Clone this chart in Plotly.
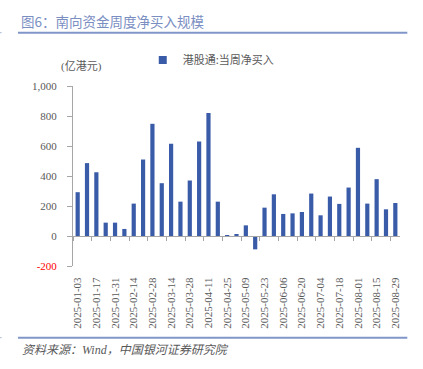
import plotly.graph_objects as go

dates = ["2025-01-03", "2025-01-10", "2025-01-17", "2025-01-24", "2025-01-31",
         "2025-02-07", "2025-02-14", "2025-02-21", "2025-02-28",
         "2025-03-07", "2025-03-14", "2025-03-21", "2025-03-28",
         "2025-04-04", "2025-04-11", "2025-04-18", "2025-04-25",
         "2025-05-02", "2025-05-09", "2025-05-16", "2025-05-23", "2025-05-30",
         "2025-06-06", "2025-06-13", "2025-06-20", "2025-06-27",
         "2025-07-04", "2025-07-11", "2025-07-18", "2025-07-25",
         "2025-08-01", "2025-08-08", "2025-08-15", "2025-08-22", "2025-08-29"]
net_buy = [292, 486, 425, 89, 89, 47, 216, 510, 748, 352, 615, 229, 370, 630, 820, 229,
           3, 11, 71, -89, 189, 278, 147, 151, 160, 283, 138, 263, 214, 323, 588, 216,
           379, 178, 220]
series_name = "港股通:当周净买入"
y_tickvals = [-200, 0, 200, 400, 600, 800, 1000]
y_ticktext = ['<span style="color:#ff0000">-200</span>', "0", "200", "400", "600", "800", "1,000"]

BAR = "#3a5ca8"
GRID = "#a6a6a6"
TXT = "#595959"
LINE = "#8196c8"
SERIF = "Liberation Serif, Noto Sans CJK SC"
CJK = "Noto Sans CJK SC"

fig = go.Figure()
fig.add_trace(go.Bar(x=dates, y=net_buy, marker=dict(color=BAR, line=dict(width=0)),
                     showlegend=False, name=series_name))
fig.add_trace(go.Scatter(x=[None], y=[None], mode="markers", name=series_name,
                         marker=dict(symbol="square", size=8, color=BAR), showlegend=True))

W, H = 423, 369
L, R, T, B = 73.3, 23, 86, 103
pw = W - L - R
ph = H - T - B

def px(xp):
    return (xp - L) / pw

def py(yp):
    return (H - B - yp) / ph

fig.update_layout(
    width=W, height=H,
    margin=dict(l=L, r=R, t=T, b=B, pad=0, autoexpand=False),
    paper_bgcolor="white", plot_bgcolor="white",
    bargap=0.55,
    font=dict(family=SERIF, size=11, color=TXT),
    legend=dict(orientation="h", x=px(143), y=py(60), xanchor="left", yanchor="middle",
                font=dict(family=CJK, size=11, color=TXT), bgcolor="rgba(0,0,0,0)",
                itemwidth=30),
    xaxis=dict(type="category", categoryorder="array", categoryarray=dates,
               range=[-0.5, len(dates) - 0.5],
               anchor="free", position=py(236),
               showline=True, linecolor=GRID, linewidth=1,
               ticks="outside", ticklen=4, tickcolor=GRID, tickson="boundaries",
               dtick=2, tickangle=-90, ticklabelstandoff=36,
               tickfont=dict(family=SERIF, size=11, color=TXT),
               showgrid=False, zeroline=False, automargin=False),
    yaxis=dict(range=[-200, 1000], tickvals=y_tickvals, ticktext=y_ticktext,
               showline=True, linecolor=GRID, linewidth=1,
               ticks="outside", ticklen=5, tickcolor=GRID, ticklabelstandoff=8,
               tickfont=dict(family=SERIF, size=11, color=TXT),
               showgrid=False, zeroline=False, automargin=False),
)

annotations = [
    dict(text="图6：南向资金周度净买入规模", x=px(19), y=py(20.7), xanchor="left", yanchor="middle",
         font=dict(family=CJK, size=13.5, color="#7a8ec2")),
    dict(text="(亿港元)", x=px(81.5), y=py(67), xanchor="center", yanchor="middle",
         font=dict(family=SERIF, size=11, color=TXT)),
    dict(text="<i>资料来源：Wind，中国银河证券研究院</i>", x=px(20), y=py(350), xanchor="left",
         yanchor="middle", font=dict(family=SERIF, size=12, color=TXT)),
]
for a in annotations:
    a.update(xref="paper", yref="paper", showarrow=False)
fig.update_layout(annotations=annotations)

shapes = [
    dict(type="line", x0=px(18.3), x1=px(407.3), y0=py(32.7), y1=py(32.7),
         line=dict(color=LINE, width=2)),
    dict(type="line", x0=px(18.3), x1=px(407.3), y0=py(337.7), y1=py(337.7),
         line=dict(color=LINE, width=2)),
    dict(type="line", x0=px(0), x1=px(2), y0=py(32.7), y1=py(32.7),
         line=dict(color="#a9b6d6", width=1)),
    dict(type="line", x0=px(0), x1=px(2), y0=py(337.7), y1=py(337.7),
         line=dict(color="#a9b6d6", width=1)),
]
for s in shapes:
    s.update(xref="paper", yref="paper")
fig.update_layout(shapes=shapes)

fig.write_html("out.html", config={"displayModeBar": False},
               post_script="document.body.style.margin='0';document.body.style.overflow='hidden';")
